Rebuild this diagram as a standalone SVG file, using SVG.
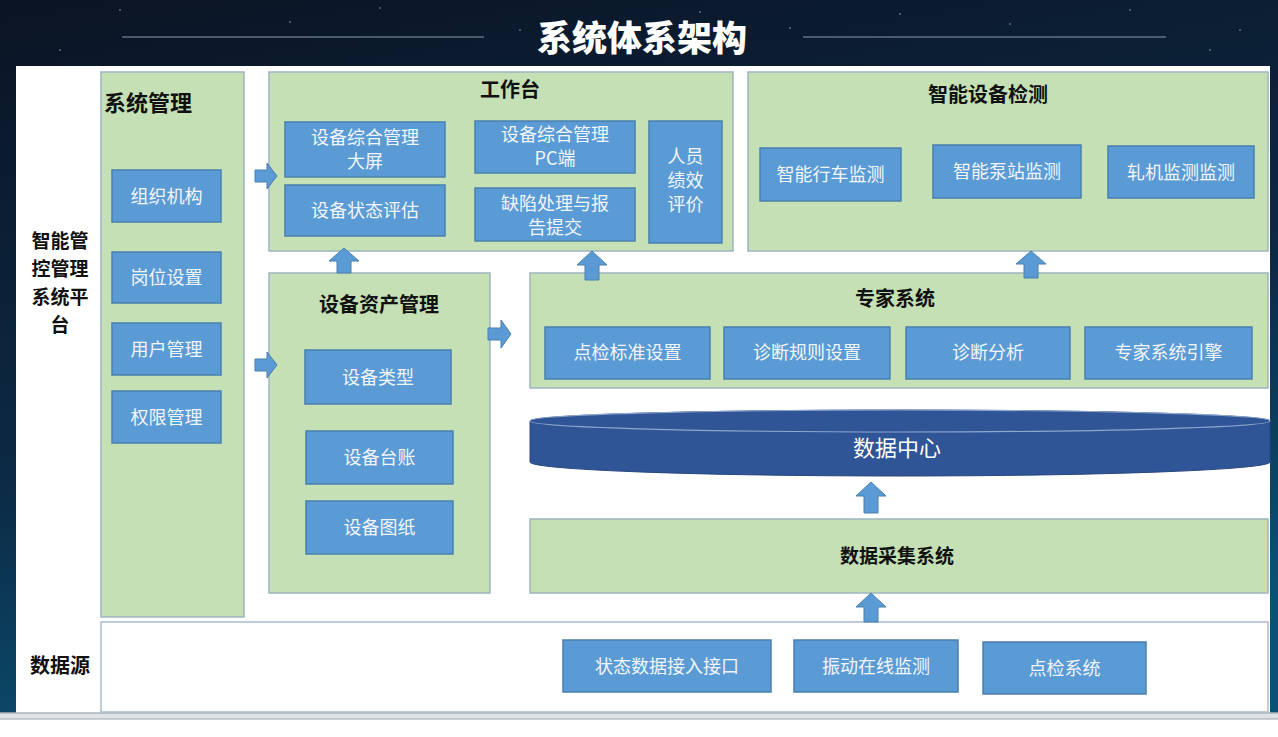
<svg xmlns="http://www.w3.org/2000/svg" width="1278" height="737" viewBox="0 0 1278 737">
<defs>
<linearGradient id="bg" x1="0" y1="0" x2="0.3" y2="1">
<stop offset="0" stop-color="#0b1424"/>
<stop offset="0.6" stop-color="#0c2a45"/>
<stop offset="1" stop-color="#0a5274"/>
</linearGradient>
<style>
.grp{fill:#c5e0b4;stroke:#9db4c0;stroke-width:1.5}
.box{fill:#5b9bd5;stroke:#4a7fae;stroke-width:1.5}
.ttl{font-family:"Noto Sans CJK SC","Noto Sans",sans-serif;font-weight:700;font-size:20px;fill:#111;text-anchor:middle}
.bt{font-family:"Noto Sans CJK SC","Noto Sans",sans-serif;font-size:18px;fill:#f2f6fb;text-anchor:middle}
.arr{fill:#5b9bd5;stroke:#4a7fae;stroke-width:1}
</style>
</defs>
<rect width="1278" height="737" fill="url(#bg)"/>
<g fill="#8fa3b8" opacity="0.6">
<circle cx="120" cy="10" r="1"/><circle cx="290" cy="22" r="1"/><circle cx="380" cy="8" r="1"/><circle cx="520" cy="30" r="1"/><circle cx="700" cy="12" r="1"/><circle cx="790" cy="28" r="1"/><circle cx="900" cy="14" r="1"/><circle cx="1010" cy="24" r="1"/><circle cx="1130" cy="10" r="1"/><circle cx="1240" cy="30" r="1"/><circle cx="60" cy="50" r="1"/><circle cx="1210" cy="50" r="1"/>
</g>
<line x1="122" y1="37" x2="484" y2="37" stroke="#8a9aab" stroke-width="1.2"/>
<line x1="803" y1="37" x2="1166" y2="37" stroke="#8a9aab" stroke-width="1.2"/>
<text x="642" y="51" font-family="'Noto Sans CJK SC',sans-serif" font-weight="900" font-size="35" fill="#ffffff" text-anchor="middle">系统体系架构</text>
<rect x="16" y="66" width="1254" height="647" fill="#ffffff"/>
<rect x="0" y="713" width="1278" height="24" fill="#ffffff"/>
<rect x="0" y="713" width="1278" height="6" fill="#dfe3e6"/>
<line x1="0" y1="713" x2="1278" y2="713" stroke="#aab5bf" stroke-width="1.5"/>
<line x1="0" y1="719" x2="1278" y2="719" stroke="#9aa3ab" stroke-width="1"/>

<g id="platform-label">
<text class="ttl" style="font-size:19px" x="60" y="248">智能管</text>
<text class="ttl" style="font-size:19px" x="60" y="276">控管理</text>
<text class="ttl" style="font-size:19px" x="60" y="304">系统平</text>
<text class="ttl" style="font-size:19px" x="60" y="332">台</text>
</g>
<g id="datasource-label"><text class="ttl" x="60" y="673">数据源</text></g>

<g id="sysmgmt">
<rect class="grp" x="101" y="72" width="143" height="545"/>
<text class="ttl" style="font-size:22px" x="148" y="111">系统管理</text>
</g>
<g id="org"><rect class="box" x="112" y="170" width="109" height="52"/><text class="bt" x="166.5" y="203">组织机构</text></g>
<g id="post"><rect class="box" x="112" y="252" width="109" height="51"/><text class="bt" x="166.5" y="284">岗位设置</text></g>
<g id="user"><rect class="box" x="112" y="323" width="109" height="52"/><text class="bt" x="166.5" y="356">用户管理</text></g>
<g id="perm"><rect class="box" x="112" y="391" width="109" height="52"/><text class="bt" x="166.5" y="424">权限管理</text></g>

<g id="workbench">
<rect class="grp" x="269" y="72" width="464" height="179"/>
<text class="ttl" x="510" y="97">工作台</text>
</g>
<g id="bigscreen"><rect class="box" x="285" y="122" width="160" height="55"/><text class="bt" x="365" y="144">设备综合管理</text><text class="bt" x="365" y="168">大屏</text></g>
<g id="status-eval"><rect class="box" x="285" y="185" width="160" height="51"/><text class="bt" x="365" y="217">设备状态评估</text></g>
<g id="pc"><rect class="box" x="475" y="121" width="160" height="52"/><text class="bt" x="555" y="141">设备综合管理</text><text class="bt" x="555" y="165">PC端</text></g>
<g id="defect"><rect class="box" x="475" y="188" width="160" height="53"/><text class="bt" x="555" y="210">缺陷处理与报</text><text class="bt" x="555" y="234">告提交</text></g>
<g id="perf"><rect class="box" x="649" y="121" width="73" height="122"/><text class="bt" x="685.5" y="163">人员</text><text class="bt" x="685.5" y="187">绩效</text><text class="bt" x="685.5" y="211">评价</text></g>

<g id="smart">
<rect class="grp" x="748" y="72" width="520" height="179"/>
<text class="ttl" x="988" y="102">智能设备检测</text>
</g>
<g id="crane"><rect class="box" x="760" y="148" width="141" height="53"/><text class="bt" x="830.5" y="181">智能行车监测</text></g>
<g id="pump"><rect class="box" x="933" y="145" width="148" height="53"/><text class="bt" x="1007" y="178">智能泵站监测</text></g>
<g id="mill"><rect class="box" x="1108" y="146" width="146" height="52"/><text class="bt" x="1181" y="179">轧机监测监测</text></g>

<g id="asset">
<rect class="grp" x="269" y="273" width="221" height="320"/>
<text class="ttl" x="379" y="312">设备资产管理</text>
</g>
<g id="type"><rect class="box" x="305" y="350" width="146" height="54"/><text class="bt" x="378" y="384">设备类型</text></g>
<g id="ledger"><rect class="box" x="306" y="431" width="147" height="53"/><text class="bt" x="379.5" y="464">设备台账</text></g>
<g id="drawing"><rect class="box" x="306" y="501" width="147" height="53"/><text class="bt" x="379.5" y="534">设备图纸</text></g>

<g id="expert">
<rect class="grp" x="530" y="273" width="738" height="115"/>
<text class="ttl" x="895" y="306">专家系统</text>
</g>
<g id="std"><rect class="box" x="545" y="327" width="165" height="52"/><text class="bt" x="627.5" y="359">点检标准设置</text></g>
<g id="rule"><rect class="box" x="724" y="327" width="166" height="52"/><text class="bt" x="807" y="359">诊断规则设置</text></g>
<g id="analysis"><rect class="box" x="906" y="327" width="164" height="52"/><text class="bt" x="988" y="359">诊断分析</text></g>
<g id="engine"><rect class="box" x="1085" y="327" width="167" height="52"/><text class="bt" x="1168.5" y="359">专家系统引擎</text></g>

<g id="datacenter">
<path d="M530,421 A370,11 0 0 1 1270,421 L1270,462 A370,14 0 0 1 530,462 Z" fill="#2f5597" stroke="#27477f" stroke-width="1"/>
<ellipse cx="900" cy="421" rx="370" ry="11" fill="#2f5597" stroke="#8fa6cf" stroke-width="1.2"/>
<text x="897" y="456" font-family="'Noto Sans CJK SC',sans-serif" font-size="22" fill="#ffffff" text-anchor="middle">数据中心</text>
</g>

<g id="collect">
<rect class="grp" x="530" y="519" width="738" height="74"/>
<text class="ttl" style="font-size:19px" x="897" y="563">数据采集系统</text>
</g>

<g id="datasource">
<rect x="101" y="622" width="1167" height="90" fill="#ffffff" stroke="#a8bccb" stroke-width="1.5"/>
</g>
<g id="iface"><rect class="box" x="563" y="640" width="208" height="52"/><text class="bt" x="667" y="673">状态数据接入接口</text></g>
<g id="vib"><rect class="box" x="794" y="640" width="164" height="52"/><text class="bt" x="876" y="673">振动在线监测</text></g>
<g id="spot"><rect class="box" x="983" y="642" width="163" height="52"/><text class="bt" x="1064.5" y="675">点检系统</text></g>

<g id="connectors">
<path class="arr" d="M255,170 h12 v-7 l10,13 l-10,13 v-7 h-12 Z"/>
<path class="arr" d="M255,359 h12 v-7 l10,13 l-10,13 v-7 h-12 Z"/>
<path class="arr" d="M488,328 h13 v-8 l10,14 l-10,14 v-8 h-13 Z"/>
<path class="arr" d="M337,273 v-12 h-8 l15,-13 l15,13 h-8 v12 Z"/>
<path class="arr" d="M585,280 v-15 h-8 l15,-14 l15,14 h-8 v15 Z"/>
<path class="arr" d="M1024,278 v-14 h-8 l15,-13 l15,13 h-8 v14 Z"/>
<path class="arr" d="M864,513 v-17 h-8 l15,-14 l15,14 h-8 v17 Z"/>
<path class="arr" d="M864,622 v-15 h-8 l15,-14 l15,14 h-8 v15 Z"/>
</g>
</svg>
